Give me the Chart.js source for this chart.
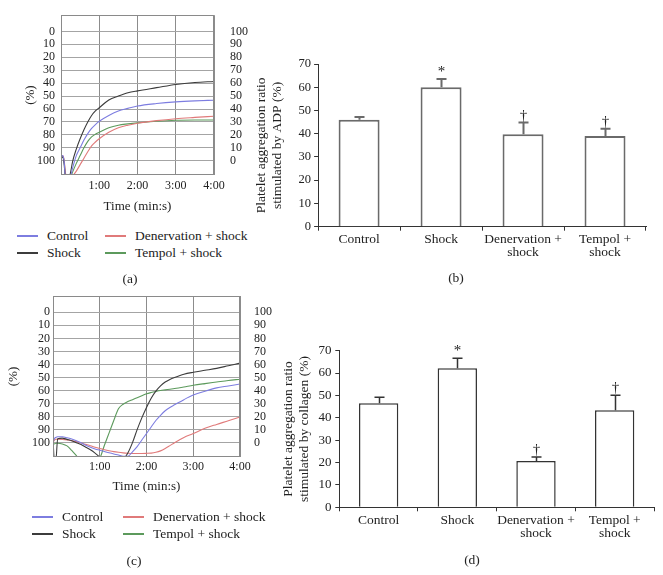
<!DOCTYPE html>
<html><head><meta charset="utf-8">
<script src="https://cdn.jsdelivr.net/npm/chart.js@4.4.1/dist/chart.umd.min.js"></script>
<style>
html,body{margin:0;padding:0;background:#fff;}
body{width:663px;height:575px;position:relative;overflow:hidden;font-family:'Liberation Serif',serif;color:#222;}
canvas{position:absolute;}
.t{position:absolute;font-size:13.5px;line-height:16px;height:16px;white-space:nowrap;}
.c{text-align:center;width:40px;}
.sw{position:absolute;height:2px;width:21px;}
</style></head><body>
<canvas id="ca" width="250" height="215" style="left:0;top:0"></canvas>
<canvas id="cb" width="413" height="225" style="left:250px;top:40px"></canvas>
<canvas id="cc" width="275" height="215" style="left:0;top:280px"></canvas>
<canvas id="cd" width="413" height="215" style="left:250px;top:330px"></canvas>
<div id="txt"></div>
<script>
const FONT = 'Liberation Serif';

// ---------- Panel (a): ADP aggregation curves (aggregation %, right axis) ----------
const timeA     = [0, 0.04, 0.08, 0.12, 0.16, 0.2, 0.25, 0.3, 0.4, 0.5, 0.6, 0.7, 0.8, 0.9, 1.0, 1.25, 1.5, 1.75, 2.0, 2.5, 3.0, 3.5, 4.0];
const controlA  = [3, 4, 0, -14, -14, -14, -12, -6, 4, 10, 16, 21, 25, 28, 30.5, 35, 38.5, 40.5, 42.3, 44.2, 45.5, 46.3, 46.8];
const shockA    = [2, 3, -2, -14, -14, -14, -9, -1, 9, 17, 24, 30, 35, 38.5, 41, 47, 50, 52.5, 54, 56.5, 59, 60.5, 61.3];
const denervA   = [2, 4, 1, -10, -14, -14, -14, -12, -8, -3, 2, 7, 11.5, 14.5, 17, 22, 25.5, 27.5, 29, 31, 32.5, 33.5, 34.4];
const tempolA   = [2, 3, 0, -12, -14, -14, -13, -9, -2, 4, 10, 15, 18.5, 20.5, 22, 25.5, 27.5, 28.5, 29.3, 30.5, 31.3, 31.5, 31.5];

// ---------- Panel (c): collagen aggregation curves ----------
const timeC     = [0, 0.03, 0.06, 0.1, 0.2, 0.3, 0.4, 0.5, 0.6, 0.7, 0.8, 0.9, 1.0, 1.1, 1.2, 1.3, 1.4, 1.5, 1.6, 1.7, 1.8, 1.9, 2.0, 2.1, 2.2, 2.3, 2.4, 2.5, 2.6, 2.8, 3.0, 3.25, 3.5, 3.75, 4.0];
const controlC  = [0, 3, 4, 4.5, 4.5, 3.8, 2.8, 1.5, 0, -2, -3.5, -4.8, -5.8, -6.8, -7.8, -8.7, -9.5, -10.5, -10.5, -7, -3, 2, 7, 12, 17, 21, 24.5, 27, 29, 33, 36.5, 39.5, 42, 43.5, 45];
const shockC    = [3, -14, -14, 3, 3.5, 2.5, 1.5, 0, -1.5, -3.5, -5.5, -8, -11, -13, -14, -14, -14, -13, -8, 0, 10, 19, 27, 34, 39.5, 43.5, 46.5, 48.5, 50, 52.5, 54, 55.5, 57, 59, 61];
const denervC   = [0, 2, 2.6, 2.7, 2.5, 2.1, 1.5, 0.8, -0.3, -1.3, -2.3, -3.5, -4.5, -5.4, -6.2, -6.9, -7.4, -7.8, -8.1, -8.3, -8.3, -8.3, -8.2, -8, -7.4, -6.3, -4.5, -2.3, 0, 4, 7, 11, 14, 16.8, 19.7];
const tempolC   = [0, -1, -0.5, -0.5, -1, -2.5, -6, -10, -14, -14, -14, -14, -12, -2, 7.5, 17, 26, 29.5, 31.5, 33, 34.5, 36, 37.5, 38.5, 39.3, 40, 40.5, 41, 41.5, 42.7, 44, 45.3, 46.5, 47.7, 48.7];

const lineYTicks = [0, 10, 20, 30, 40, 50, 60, 70, 80, 90, 100];
const lineXTicks = [0, 1, 2, 3, 4];
const seriesNames = ['Control', 'Shock', 'Denervation + shock', 'Tempol + shock'];

// ---------- Panels (b) and (d): bar charts ----------
const barCategories = ['Control', 'Shock', ['Denervation +', 'shock'], ['Tempol +', 'shock']];
const barTicks = [0, 10, 20, 30, 40, 50, 60, 70];
const adpMeans  = [46, 60, 39.8, 39];
const adpErrors = [1.2, 3.6, 5, 3.1];
const adpMarks  = ['', '*', '\u2020', '\u2020'];
const colMeans  = [46.5, 62.1, 20.7, 43.4];
const colErrors = [2.7, 4.5, 1.8, 6.7];
const colMarks  = ['', '*', '\u2020', '\u2020'];

// styles
const seriesColors = ['#7d7de0', '#3c3c3c', '#e07a7a', '#5c9a5c'];

const framePlugin = {
  id: 'frame',
  afterDatasetsDraw(chart, args, opts) {
    const {ctx, chartArea: a} = chart;
    ctx.save();
    ctx.strokeStyle = opts.color || '#888';
    ctx.lineWidth = 1;
    const l = Math.round(a.left) + 0.5, r = Math.round(a.right) - 0.5;
    const t = Math.round(a.top) + 0.5, b = Math.round(a.bottom) - 0.5;
    ctx.strokeRect(l, t, r - l, b - t);
    ctx.restore();
  }
};

const errorPlugin = {
  id: 'errs',
  afterDatasetsDraw(chart, args, opts) {
    const meta = chart.getDatasetMeta(0);
    const ys = chart.scales.y;
    const vals = chart.data.datasets[0].data;
    const ctx = chart.ctx;
    ctx.save();
    meta.data.forEach((bar, i) => {
      const top = ys.getPixelForValue(vals[i] + opts.errors[i]);
      const x = Math.round(bar.x) + 0.5;
      ctx.strokeStyle = opts.color;
      ctx.lineWidth = opts.width;
      ctx.beginPath();
      ctx.moveTo(x, bar.y);
      ctx.lineTo(x, top);
      ctx.moveTo(x - opts.cap, top);
      ctx.lineTo(x + opts.cap, top);
      ctx.stroke();
      if (opts.marks[i]) {
        ctx.fillStyle = '#222';
        ctx.font = '15px "' + FONT + '"';
        ctx.textAlign = 'center';
        ctx.textBaseline = 'alphabetic';
        ctx.fillText(opts.marks[i], x, top - 3);
      }
    });
    ctx.restore();
  }
};

function setTicks(list) { return s => { s.ticks = list.map(v => ({value: v})); }; }

function lineChart(id, time, series, g) {
  const datasets = series.map((vals, i) => ({
    label: seriesNames[i],
    data: time.map((t, j) => ({x: t, y: vals[j]})),
    borderColor: seriesColors[i], borderWidth: 1.1, pointRadius: 0,
    cubicInterpolationMode: 'monotone', yAxisID: 'y'
  }));
  const tickFont = {family: FONT, size: 12};
  return new Chart(document.getElementById(id), {
    type: 'line',
    data: {datasets},
    options: {
      responsive: false, animation: false, devicePixelRatio: 1,
      layout: {padding: {top: g.top, right: 0, bottom: 0, left: 0}},
      plugins: {legend: {display: false}, tooltip: {enabled: false}, frame: {color: '#8a8a8a'}},
      scales: {
        x: {
          type: 'linear', min: 0, max: 4,
          afterBuildTicks: setTicks(lineXTicks),
          afterFit: s => { s.height = g.xh; },
          ticks: {callback: v => v === 0 ? '' : v + ':00', font: tickFont, color: '#222', padding: g.xpad, maxRotation: 0, autoSkip: false},
          grid: {color: '#8c8c8c', drawTicks: false},
          border: {display: false},
          title: {display: true, text: 'Time (min:s)', font: {family: FONT, size: 13}, color: '#222', padding: {top: 0, bottom: g.xtp}}
        },
        y: {
          position: 'left', min: -11, max: 112.5,
          afterBuildTicks: setTicks(lineYTicks),
          afterFit: s => { s.width = g.yl; },
          ticks: {callback: v => String(100 - v), font: tickFont, color: '#222', padding: g.ylp, autoSkip: false},
          grid: {color: '#a4a4a4', drawTicks: false},
          border: {display: false},
          title: {display: true, text: '(%)', font: {family: FONT, size: 13}, color: '#222', padding: {top: g.ytp, bottom: 0}}
        },
        y2: {
          position: 'right', min: -11, max: 112.5,
          afterBuildTicks: setTicks(lineYTicks),
          afterFit: s => { s.width = g.yr; },
          ticks: {callback: v => String(v), font: tickFont, color: '#222', padding: g.yrp, autoSkip: false},
          grid: {display: false},
          border: {display: false}
        }
      }
    },
    plugins: [framePlugin]
  });
}

function barChart(id, means, errors, marks, title, g) {
  return new Chart(document.getElementById(id), {
    type: 'bar',
    data: {labels: barCategories, datasets: [{data: means, backgroundColor: '#ffffff', borderColor: g.barColor, borderWidth: g.barWidth, categoryPercentage: 1, barPercentage: 0.5}]},
    options: {
      responsive: false, animation: false, devicePixelRatio: 1,
      layout: {padding: {top: g.top, right: g.right, left: 0, bottom: 0}},
      plugins: {legend: {display: false}, tooltip: {enabled: false},
        errs: {errors, marks, color: g.barColor, width: g.barWidth, cap: 5}},
      scales: {
        x: {
          afterFit: s => { s.height = g.xh; },
          ticks: {font: {family: FONT, size: 13.5, lineHeight: 1}, color: '#222', padding: 2, maxRotation: 0, autoSkip: false},
          grid: {offset: true, drawOnChartArea: false, tickLength: 4, color: '#333'},
          border: {color: '#333'}
        },
        y: {
          min: 0, max: 70,
          afterBuildTicks: setTicks(barTicks),
          afterFit: s => { s.width = g.yw; },
          ticks: {font: {family: FONT, size: g.ytick}, color: '#222', padding: g.ypad, autoSkip: false},
          grid: {drawOnChartArea: false, tickLength: 4, color: '#333'},
          border: {color: '#333'},
          title: {display: true, text: title, font: {family: FONT, size: 13.5, lineHeight: 1.2}, color: '#222', padding: {top: g.tp, bottom: 0}}
        }
      }
    },
    plugins: [errorPlugin]
  });
}

lineChart('ca', timeA, [controlA, shockA, denervA, tempolA],
  {top: 8, xh: 40, xpad: 4, xtp: 1, yl: 61, ylp: 6, ytp: 23, yr: 36, yrp: 8});
lineChart('cc', timeC, [controlC, shockC, denervC, tempolC],
  {top: 16, xh: 38, xpad: 3, xtp: 1, yl: 53, ylp: 3, ytp: 5.5, yr: 35, yrp: 6});

barChart('cb', adpMeans, adpErrors, adpMarks, ['Platelet aggregation ratio', 'stimulated by ADP (%)'],
  {top: 24, right: 17, xh: 38.3, yw: 68.1, ytick: 12.5, ypad: 3, tp: 3.6, barColor: '#6a6a6a', barWidth: 2});
barChart('cd', colMeans, colErrors, colMarks, ['Platelet aggregation ratio', 'stimulated by collagen (%)'],
  {top: 20.7, right: 9, xh: 37.7, yw: 89.3, ytick: 13, ypad: 3.8, tp: 30.2, barColor: '#333333', barWidth: 1.5});

// ---------- HTML legends and captions ----------
const txt = document.getElementById('txt');
function addText(str, x, y, cls) {
  const d = document.createElement('div');
  d.className = 't' + (cls ? ' ' + cls : '');
  d.textContent = str;
  d.style.left = x + 'px';
  d.style.top = (y - 8) + 'px';
  txt.appendChild(d);
}
function addSwatch(color, x, y) {
  const d = document.createElement('div');
  d.className = 'sw';
  d.style.background = color;
  d.style.left = x + 'px';
  d.style.top = (y - 1) + 'px';
  txt.appendChild(d);
}
function legend(cols, rows) {
  const slots = [[0, 0], [0, 1], [1, 0], [1, 1]];
  seriesNames.forEach((name, i) => {
    const [c, r] = slots[i];
    addSwatch(seriesColors[i], cols[c], rows[r]);
    addText(name, cols[c] + 30, rows[r]);
  });
}
legend([17, 105], [236, 253]);
legend([32, 123], [517, 534]);
addText('(a)', 110, 279, 'c');
addText('(b)', 436, 278, 'c');
addText('(c)', 114, 561, 'c');
addText('(d)', 452, 560, 'c');
</script>
</body></html>
